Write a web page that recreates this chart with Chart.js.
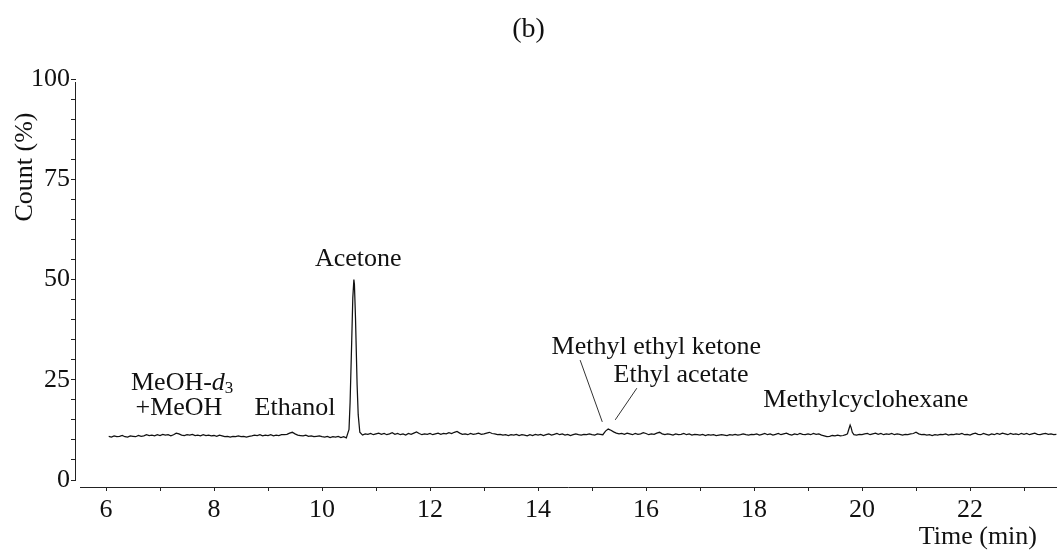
<!DOCTYPE html>
<html>
<head>
<meta charset="utf-8">
<title>Chromatogram (b)</title>
<script src="https://cdn.jsdelivr.net/npm/chart.js@4.4.1/dist/chart.umd.min.js"></script>
<style>
  html, body { margin: 0; padding: 0; background: #fff; }
  canvas { display: block; }
</style>
</head>
<body>
<canvas id="chrom" width="1057" height="553"></canvas>
<script>
// detector trace sampled every 0.05 min from 6.05 min
const gridStart = 6.05;
const gridStep = 0.05;
const counts = [
  10.9, 10.7, 11.0, 10.8, 10.9, 11.1, 10.8, 10.7, 11.0, 10.9, 10.8, 11.1, 10.9, 11.0, 11.3, 11.1, 11.2, 11.0, 11.3,        // 6.05-6.95
  11.1, 11.4, 11.2, 11.3, 11.0, 11.3, 11.7, 11.5, 11.2, 11.1, 11.3, 11.2, 11.4, 11.1, 11.2, 11.0, 11.3, 11.1, 11.2, 11.0,  // 7
  11.1, 10.9, 11.2, 11.0, 10.8, 10.9, 10.7, 10.9, 10.8, 11.0, 10.8, 10.9, 10.7, 10.9, 11.0, 11.2, 11.1, 11.3, 11.0, 11.2,  // 8
  11.1, 11.3, 11.0, 11.2, 11.1, 11.3, 11.3, 11.4, 11.7, 11.9, 11.5, 11.2, 11.1, 11.0, 11.2, 10.9, 11.0, 10.8, 10.9, 11.0,  // 9
  10.8, 10.7, 10.9, 10.6, 10.8, 10.7, 10.9, 10.6, 10.8, 10.5, 12.6, 34.7, 48.8, 23.7, 11.9, 11.2, 11.5, 11.4, 11.6, 11.3,  // 10
  11.5, 11.7, 11.4, 11.6, 11.3, 11.5, 11.8, 11.4, 11.6, 11.3, 11.5, 11.2, 11.6, 11.4, 11.7, 12.0, 11.6, 11.3, 11.5, 11.4,  // 11
  11.6, 11.3, 11.5, 11.7, 11.4, 11.6, 11.5, 11.8, 11.6, 11.9, 12.1, 11.7, 11.4, 11.5, 11.3, 11.6, 11.4, 11.5, 11.7, 11.4,  // 12
  11.5, 11.7, 11.9, 11.6, 11.5, 11.3, 11.4, 11.2, 11.3, 11.1, 11.3, 11.2, 11.4, 11.1, 11.3, 11.2, 11.0, 11.3, 11.1, 11.4,  // 13
  11.2, 11.4, 11.1, 11.3, 11.5, 11.2, 11.4, 11.6, 11.3, 11.5, 11.2, 11.4, 11.1, 11.3, 11.5, 11.3, 11.2, 11.4, 11.3, 11.5,  // 14
  11.3, 11.2, 11.5, 11.4, 11.3, 12.2, 12.7, 12.4, 12.0, 11.7, 11.5, 11.6, 11.4, 11.7, 11.5, 11.3, 11.6, 11.4, 11.5, 11.8,  // 15
  11.6, 11.3, 11.5, 11.4, 11.7, 11.9, 11.5, 11.3, 11.5, 11.4, 11.2, 11.5, 11.3, 11.4, 11.6, 11.3, 11.5, 11.2, 11.4, 11.3,  // 16
  11.2, 11.4, 11.1, 11.3, 11.2, 11.3, 11.1, 11.2, 11.3, 11.2, 11.1, 11.3, 11.2, 11.4, 11.2, 11.3, 11.5, 11.3, 11.2, 11.4,  // 17
  11.3, 11.5, 11.2, 11.4, 11.6, 11.3, 11.5, 11.2, 11.4, 11.6, 11.3, 11.5, 11.7, 11.4, 11.2, 11.5, 11.3, 11.6, 11.4, 11.3,  // 18
  11.5, 11.3, 11.6, 11.4, 11.5, 11.2, 11.0, 10.8, 10.9, 11.1, 11.0, 11.2, 11.0, 11.1, 11.3, 12.4, 13.0, 11.3, 11.2, 11.4,  // 19
  11.3, 11.5, 11.6, 11.3, 11.5, 11.7, 11.4, 11.6, 11.3, 11.5, 11.4, 11.6, 11.3, 11.5, 11.4, 11.2, 11.4, 11.3, 11.5, 11.6,  // 20
  11.9, 11.5, 11.3, 11.4, 11.2, 11.3, 11.1, 11.3, 11.2, 11.4, 11.3, 11.5, 11.2, 11.4, 11.3, 11.5, 11.4, 11.6, 11.3, 11.4,  // 21
  11.2, 11.5, 11.7, 11.4, 11.3, 11.6, 11.4, 11.2, 11.5, 11.3, 11.6, 11.4, 11.7, 11.5, 11.3, 11.6, 11.4, 11.5, 11.3, 11.6,  // 22
  11.4, 11.6, 11.3, 11.5, 11.7, 11.4, 11.3, 11.5, 11.6, 11.4, 11.5, 11.3, 11.4                                             // 23.00-23.60
];

// extra samples across the two narrow peaks (acetone, methylcyclohexane)
const peakTimes  = [10.52, 10.57, 10.59, 10.62, 10.67, 19.73, 19.78, 19.82];
const peakCounts = [19.4, 45.4, 50.0, 40.4, 16.3, 11.5, 13.7, 11.9];

const xTicks = [6, 7, 8, 9, 10, 11, 12, 13, 14, 15, 16, 17, 18, 19, 20, 21, 22, 23];
const yTicks = [0, 5, 10, 15, 20, 25, 30, 35, 40, 45, 50, 55, 60, 65, 70, 75, 80, 85, 90, 95, 100];

const trace = counts
  .map((c, i) => ({ x: +(gridStart + i * gridStep).toFixed(2), y: c }))
  .concat(peakTimes.map((t, i) => ({ x: t, y: peakCounts[i] })))
  .sort((a, b) => a.x - b.x);

const serif = '"Liberation Serif", "Times New Roman", serif';
const ink = '#111';

// compound names placed in (min, %) units, plus leader lines
const compoundLabels = [
  { text: 'Acetone', x: 10.67, y: 55.1 },
  { text: 'Ethanol', x: 9.50, y: 18.0 },
  { text: '+MeOH', x: 7.35, y: 18.0 },
  { text: 'Methyl ethyl ketone', x: 16.19, y: 33.2 },
  { text: 'Ethyl acetate', x: 16.65, y: 26.2 },
  { text: 'Methylcyclohexane', x: 20.07, y: 20.0 }
];
const leaders = [
  [14.78, 29.9, 15.19, 14.5],
  [15.83, 22.9, 15.43, 15.0]
];

const annotate = {
  id: 'annotate',
  afterDraw(chart) {
    const { ctx, chartArea: a, scales: { x, y } } = chart;
    ctx.save();

    // axis lines, left open at the corner
    ctx.strokeStyle = '#222';
    ctx.lineWidth = 1;
    ctx.beginPath();
    const ax = Math.round(a.left) - 0.5;
    ctx.moveTo(ax, Math.round(y.getPixelForValue(0)) + 0.5);
    ctx.lineTo(ax, a.top + 3);
    const ay = Math.round(a.bottom) + 0.5;
    ctx.moveTo(a.left + 4, ay);
    ctx.lineTo(a.right, ay);
    ctx.stroke();

    // leader lines
    ctx.lineWidth = 1;
    ctx.strokeStyle = '#333';
    ctx.beginPath();
    leaders.forEach(([x0, y0, x1, y1]) => {
      ctx.moveTo(x.getPixelForValue(x0), y.getPixelForValue(y0));
      ctx.lineTo(x.getPixelForValue(x1), y.getPixelForValue(y1));
    });
    ctx.stroke();

    ctx.fillStyle = ink;
    ctx.textBaseline = 'middle';
    ctx.textAlign = 'center';
    ctx.font = '26px ' + serif;
    compoundLabels.forEach(l => {
      ctx.fillText(l.text, x.getPixelForValue(l.x), y.getPixelForValue(l.y));
    });

    // "MeOH-d3" with italic d and subscript 3
    const parts = [
      { s: 'MeOH-', font: '26px ' + serif, dy: 0 },
      { s: 'd', font: 'italic 26px ' + serif, dy: 0 },
      { s: '3', font: '17px ' + serif, dy: 6 }
    ];
    let total = 0;
    parts.forEach(p => { ctx.font = p.font; p.w = ctx.measureText(p.s).width; total += p.w; });
    let px = x.getPixelForValue(7.41) - total / 2;
    const py = y.getPixelForValue(24.2);
    ctx.textAlign = 'left';
    parts.forEach(p => {
      ctx.font = p.font;
      ctx.fillText(p.s, px, py + p.dy);
      px += p.w;
    });

    // axis titles
    ctx.font = '26px ' + serif;
    ctx.textAlign = 'right';
    ctx.fillText('Time (min)', a.right - 20, a.bottom + 50);
    ctx.save();
    ctx.translate(a.left - 51, a.top + 88);
    ctx.rotate(-Math.PI / 2);
    ctx.textAlign = 'center';
    ctx.fillText('Count (%)', 0, 0);
    ctx.restore();

    ctx.restore();
  }
};

new Chart(document.getElementById('chrom'), {
  type: 'scatter',
  data: {
    datasets: [{
      data: trace,
      showLine: true,
      borderColor: '#111',
      borderWidth: 1.25,
      pointRadius: 0,
      tension: 0
    }]
  },
  options: {
    responsive: false,
    animation: false,
    layout: { padding: 0 },
    plugins: {
      legend: { display: false },
      tooltip: { enabled: false },
      title: {
        display: true,
        text: '(b)',
        color: ink,
        font: { family: serif, size: 28, weight: 'normal' },
        padding: { top: 13, bottom: 32.4 }
      }
    },
    scales: {
      x: {
        type: 'linear',
        min: 5.444,
        max: 23.611,
        afterBuildTicks: s => { s.ticks = xTicks.map(v => ({ value: v })); },
        afterFit: s => { s.height = 66; },
        border: { display: false },
        grid: { drawOnChartArea: false, drawTicks: true, tickLength: 4, color: '#222' },
        ticks: {
          color: ink,
          padding: 4,
          maxRotation: 0,
          autoSkip: false,
          font: { family: serif, size: 26 },
          callback: v => (v % 2 === 0 ? String(v) : '')
        }
      },
      y: {
        min: -1.74,
        max: 100,
        afterBuildTicks: s => { s.ticks = yTicks.map(v => ({ value: v })); },
        afterFit: s => { s.width = 76; },
        border: { display: false },
        grid: { drawOnChartArea: false, drawTicks: true, tickLength: 5, color: '#222' },
        ticks: {
          color: ink,
          padding: 1,
          autoSkip: false,
          font: { family: serif, size: 26 },
          callback: v => (v % 25 === 0 ? String(v) : '')
        }
      }
    }
  },
  plugins: [annotate]
});
</script>
</body>
</html>
